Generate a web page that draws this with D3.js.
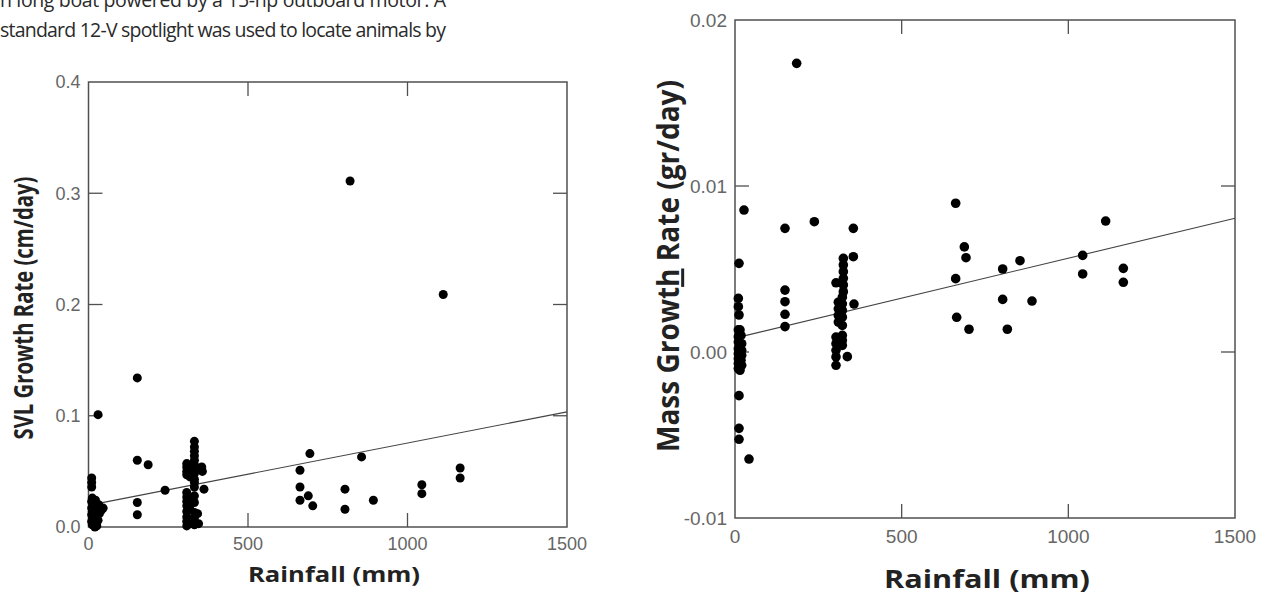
<!DOCTYPE html>
<html>
<head>
<meta charset="utf-8">
<script src="https://cdn.jsdelivr.net/npm/d3@7"></script>
<style>
  body { margin: 0; background: #fff; }
  svg { display: block; }
</style>
</head>
<body>
<svg id="fig" width="1268" height="594"></svg>
<script>
// paragraph lines cut off above the figure
const paraLines = ['n long boat powered by a 15-hp outboard motor. A',
                   'standard 12-V spotlight was used to locate animals by'];

// SVL growth (left panel)
const svlRain = [10, 10, 10, 12, 10, 14, 10, 12, 10, 14, 10, 12, 20, 22, 20, 24, 20, 22, 26, 30, 32, 34, 30, 46, 40,
                 153, 153, 153, 153, 187, 240,
                 308, 308, 308, 308, 308, 308, 308, 308, 308, 308, 308, 308,
                 318, 318, 318, 318, 318,
                 332, 332, 332, 332, 332, 332, 332, 332, 332, 332, 332, 332, 332, 332, 332, 332,
                 355, 357, 362, 342, 345,
                 663, 663, 663, 689, 694, 703, 804, 804, 820, 856, 893, 1045, 1045, 1112, 1165, 1165];
const svlRate = [0.044, 0.040, 0.036, 0.026, 0.023, 0.020, 0.017, 0.014, 0.011, 0.008, 0.005, 0.002, 0.000, 0.024, 0.019, 0.013, 0.009, 0.004, 0.001, 0.101, 0.020, 0.012, 0.006, 0.017, 0.015,
                 0.134, 0.060, 0.022, 0.011, 0.056, 0.033,
                 0.057, 0.054, 0.050, 0.047, 0.031, 0.027, 0.023, 0.019, 0.014, 0.009, 0.005, 0.001,
                 0.055, 0.045, 0.026, 0.016, 0.003,
                 0.077, 0.072, 0.068, 0.064, 0.060, 0.056, 0.052, 0.048, 0.043, 0.040, 0.036, 0.028, 0.022, 0.013, 0.008, 0.002,
                 0.054, 0.050, 0.034, 0.012, 0.003,
                 0.051, 0.036, 0.024, 0.028, 0.066, 0.019, 0.034, 0.016, 0.311, 0.063, 0.024, 0.038, 0.030, 0.209, 0.053, 0.044];
const svlFit = [0.0195, 0.0000560];   // intercept, slope

// mass growth (right panel)
const massRain = [27, 12, 10, 10, 12, 10, 15, 18, 10,
                  10, 20, 10, 20, 10, 20, 10, 18, 10, 20, 10, 15,
                  12, 12, 12, 42,
                  150, 150, 150, 150, 150, 238, 355, 355, 185,
                  325, 325, 325, 325, 325, 325, 303,
                  310, 310, 310, 310, 322, 322, 322, 322, 322, 357,
                  303, 303, 303, 303, 303, 322, 322, 322, 337,
                  662, 688, 693, 662, 803, 855, 803, 891, 665, 702, 817, 1043, 1043, 1112, 1165, 1165];
const massRate = [0.00855, 0.00534, 0.00323, 0.00273, 0.00223, 0.00133, 0.00133, 0.00100, 0.00092,
                  0.0006, 0.0005, 0.0002, 0.0001, -0.0001, -0.0002, -0.0004, -0.0005, -0.0007, -0.0008, -0.0010, -0.0011,
                  -0.00263, -0.0046, -0.00526, -0.00645,
                  0.00745, 0.00373, 0.00303, 0.00227, 0.00153, 0.00785, 0.00745, 0.00574, 0.01739,
                  0.00564, 0.00524, 0.00484, 0.00444, 0.00404, 0.00363, 0.00417,
                  0.0030, 0.0026, 0.0022, 0.0018, 0.0033, 0.0029, 0.0025, 0.0021, 0.0016, 0.00289,
                  0.0009, 0.0005, 0.0001, -0.0003, -0.0008, 0.0010, 0.0007, 0.0004, -0.00028,
                  0.00896, 0.00633, 0.00568, 0.00442, 0.0050, 0.0055, 0.00317, 0.00307, 0.00209, 0.00137, 0.00137, 0.00582, 0.0047, 0.00789, 0.00504, 0.0042];
const massFit = [0.00084, 0.00000481];

const xTicks = [0, 500, 1000, 1500];
const svlTicks = [0, 0.1, 0.2, 0.3, 0.4];
const massTicks = [-0.01, 0, 0.01, 0.02];

var svg = d3.select("#fig");
var fmt = d3.formatLocale({decimal: ".", thousands: ",", grouping: [3], currency: ["", ""], minus: "-"});

svg.append("rect").attr("width", 1268).attr("height", 594).attr("fill", "#fff");

// text from the paper
svg.append("g").selectAll("text")
    .data(paraLines)
    .join("text")
    .attr("x", 0)
    .attr("y", (d, i) => 7 + i * 30)
    .attr("textLength", 446)
    .attr("lengthAdjust", "spacing")
    .style("font-family", "'Open Sans', sans-serif")
    .style("font-size", "19.5px")
    .style("fill", "#2a2a2a")
    .text(d => d);

function drawPanel(p) {
    var x = d3.scaleLinear().domain([0, 1500]).range([p.left, p.right]);
    var y = d3.scaleLinear().domain(p.yDomain).range([p.bottom, p.top]);
    var g = svg.append("g");
    var axisColor = "#505050";
    var innerX = xTicks.slice(1, -1);
    var innerY = p.yTicks.filter(v => v > p.yDomain[0] && v < p.yDomain[1]);

    // inside ticks on all four sides
    g.selectAll(".tb").data(innerX).join("line")
        .attr("x1", d => x(d)).attr("x2", d => x(d))
        .attr("y1", p.bottom).attr("y2", p.bottom - p.tick)
        .attr("stroke", axisColor).attr("stroke-width", 1.3);
    g.selectAll(".tt").data(innerX).join("line")
        .attr("x1", d => x(d)).attr("x2", d => x(d))
        .attr("y1", p.top).attr("y2", p.top + p.tick)
        .attr("stroke", axisColor).attr("stroke-width", 1.3);
    g.selectAll(".tl").data(innerY).join("line")
        .attr("x1", p.left).attr("x2", p.left + p.tick)
        .attr("y1", d => y(d)).attr("y2", d => y(d))
        .attr("stroke", axisColor).attr("stroke-width", 1.3);
    g.selectAll(".tr").data(innerY).join("line")
        .attr("x1", p.right).attr("x2", p.right - p.tick)
        .attr("y1", d => y(d)).attr("y2", d => y(d))
        .attr("stroke", axisColor).attr("stroke-width", 1.3);

    // frame
    g.append("rect")
        .attr("x", p.left).attr("y", p.top)
        .attr("width", p.right - p.left).attr("height", p.bottom - p.top)
        .attr("fill", "none").attr("stroke", axisColor).attr("stroke-width", 1.5);

    // tick labels
    g.selectAll(".xl").data(xTicks).join("text")
        .attr("x", d => x(d)).attr("y", p.bottom + p.xLabGap)
        .attr("text-anchor", "middle")
        .style("font-family", "'Liberation Sans', Arial, sans-serif")
        .style("font-size", p.tickSize + "px").style("fill", "#666")
        .text(d => d);
    g.selectAll(".yl").data(p.yTicks).join("text")
        .attr("x", p.left - 8).attr("y", d => y(d)).attr("dy", "0.36em")
        .attr("text-anchor", "end")
        .style("font-family", "'Liberation Sans', Arial, sans-serif")
        .style("font-size", p.tickSize + "px").style("fill", "#666")
        .text(d => fmt.format(p.yFmt)(d));

    // fitted line
    var line = d3.line().x(d => x(d)).y(d => y(p.fit[0] + p.fit[1] * d));
    g.append("path").datum([15, 1500])
        .attr("d", line)
        .attr("fill", "none").attr("stroke", "#444").attr("stroke-width", 1.1);

    // points
    g.selectAll("circle").data(p.xs).join("circle")
        .attr("cx", d => x(d))
        .attr("cy", (d, i) => y(p.ys[i]))
        .attr("r", p.r)
        .attr("fill", "#000");

    // axis titles (the source figure is stretched sideways a bit)
    g.append("text")
        .attr("x", p.xTitleX).attr("y", p.xTitleY)
        .attr("text-anchor", "middle")
        .attr("textLength", p.xTitleLen).attr("lengthAdjust", "spacingAndGlyphs")
        .style("font-family", "'Open Sans', sans-serif").style("font-weight", 700)
        .style("font-size", p.titleSize + "px").style("fill", "#222")
        .text("Rainfall (mm)");
    var yt = g.append("text")
        .attr("transform", "translate(" + p.yTitleX + "," + p.yTitleY + ") scale(" + p.yTitleStretch + ",1) rotate(-90)")
        .attr("text-anchor", "middle")
        .attr("textLength", p.yTitleLen).attr("lengthAdjust", "spacingAndGlyphs")
        .style("font-family", "'Open Sans', sans-serif").style("font-weight", 700)
        .style("font-size", p.yTitleSize + "px").style("fill", "#222");
    p.yTitle.forEach(function(part) {
        var t = yt.append("tspan").text(part.t);
        if (part.u) t.style("text-decoration", "underline");
    });
}

drawPanel({
    left: 88.5, right: 567, top: 82, bottom: 527,
    yDomain: [0, 0.4], yTicks: svlTicks, yFmt: ".1f",
    xs: svlRain, ys: svlRate, fit: svlFit, r: 4.5, tick: 14,
    tickSize: 18, xLabGap: 23,
    titleSize: 21, xTitleX: 334, xTitleY: 582, xTitleLen: 172,
    yTitle: [{t: "SVL Growth Rate (cm/day)"}], yTitleX: 33, yTitleY: 308, yTitleSize: 21, yTitleLen: 263, yTitleStretch: 1.3
});

drawPanel({
    left: 735, right: 1235, top: 20, bottom: 518,
    yDomain: [-0.01, 0.02], yTicks: massTicks, yFmt: ".2f",
    xs: massRain, ys: massRate, fit: massFit, r: 4.8, tick: 14,
    tickSize: 19, xLabGap: 25,
    titleSize: 25, xTitleX: 987, xTitleY: 588, xTitleLen: 206,
    yTitle: [{t: "Mass Growt"}, {t: "h", u: true}, {t: " Rate (gr/day)"}], yTitleX: 679, yTitleY: 266, yTitleSize: 25, yTitleLen: 372, yTitleStretch: 1.2
});
</script>
</body>
</html>
